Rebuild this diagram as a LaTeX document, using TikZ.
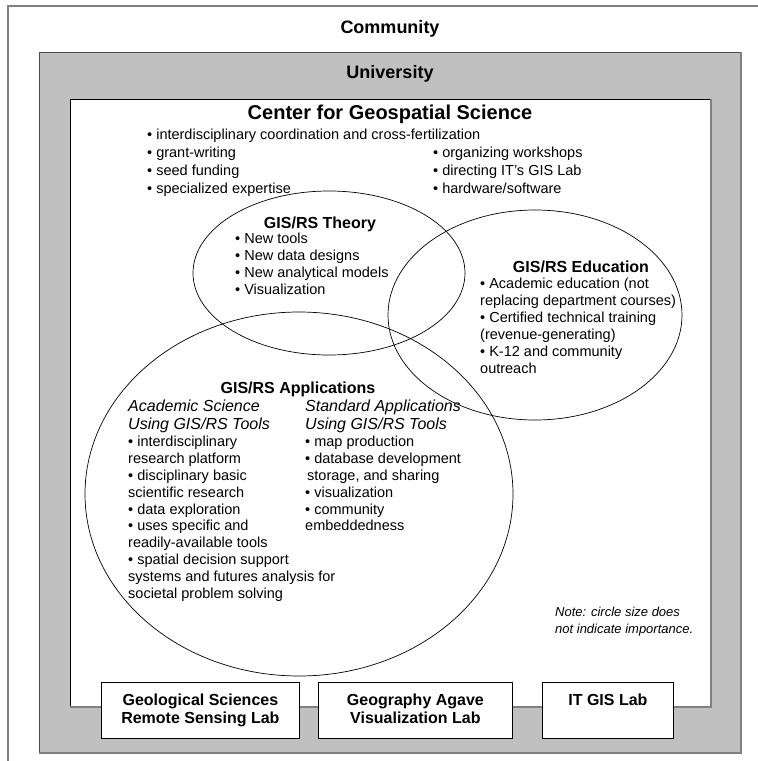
\documentclass[tikz,border=0pt]{standalone}
\usepackage{fontspec}
\setmainfont{Liberation Sans}
\usetikzlibrary{shapes.geometric, positioning}
\definecolor{univgray}{RGB}{192,192,192}
\definecolor{edgegray}{RGB}{128,128,128}

\begin{document}
\begin{tikzpicture}[x=1pt,y=-1pt,
  level/.style={font=\bfseries\fontsize{18}{20}\selectfont,anchor=base,inner sep=0pt},
  head/.style={font=\bfseries\fontsize{16}{18}\selectfont,anchor=base,inner sep=0pt},
  list/.style={font=\fontsize{14.5}{17}\selectfont,align=left,anchor=north west,inner sep=0pt},
  sublist/.style={font=\fontsize{14.5}{16.8}\selectfont,align=left,anchor=north west,inner sep=0pt},
  colhead/.style={font=\itshape\fontsize{16}{18}\selectfont,align=left,anchor=north west,inner sep=0pt},
  bubble/.style={draw,ellipse,inner sep=0pt,line width=0.7pt},
  labbox/.style={draw,fill=white,line width=0.8pt,minimum height=56pt,anchor=north west,inner sep=0pt},
  labtext/.style={font=\bfseries\fontsize{16}{18}\selectfont,align=center,inner sep=0pt},
]
\useasboundingbox (0,0) rectangle (758,761);

\draw[edgegray,line width=1.5pt] (8,761) |- (758,6);
\node[level] (community) at (390,33.5) {Community};

\fill[univgray] (39,52) rectangle (741,753);
\draw[black!70,line width=1pt] (39,753) |- (741,52);
\draw[edgegray,line width=1.5pt] (39,753) -| (741,52);
\node[level] (university) at (390,78.5) {University};

\fill[white] (70,99) rectangle (711,707);
\draw[black,line width=1pt] (70,707) |- (711,99);
\draw[edgegray,line width=1.5pt] (70,707) -| (711,99);
\node[level,font=\bfseries\fontsize{20}{22}\selectfont] (center) at (390,119) {Center for Geospatial Science};
\node[list,font=\fontsize{14.5}{18}\selectfont] (centerL) at (147,126.4) {\strut\textbullet\ interdisciplinary coordination and cross-fertilization\\
  \textbullet\ grant-writing\\ \textbullet\ seed funding\\ \textbullet\ specialized expertise};
\node[list,font=\fontsize{14.5}{18}\selectfont] (centerR) at (433,144.4) {\strut\textbullet\ organizing workshops\\
  \textbullet\ directing IT's GIS Lab\\ \textbullet\ hardware/software};

\node[bubble,minimum width=272pt,minimum height=164pt] (theory) at (329,273) {};
\node[bubble,minimum width=294pt,minimum height=210pt] (education) at (535,315) {};
\node[bubble,minimum width=428pt,minimum height=364pt] (applications) at (299,494) {};

\node[head] (theoryT) at (320,228) {GIS/RS Theory};
\node[list] (theoryL) at (235,231.1) {\strut\textbullet\ New tools\\ \textbullet\ New data designs\\
  \textbullet\ New analytical models\\ \textbullet\ Visualization};

\node[head] (educationT) at (581,272) {GIS/RS Education};
\node[list] (educationL) at (480,276.1) {\strut\textbullet\ Academic education (not\\
  replacing department courses)\\ \textbullet\ Certified technical training\\
  (revenue-generating)\\ \textbullet\ K-12 and community\\ outreach};

\node[head] (applicationsT) at (298,393) {GIS/RS Applications};
\node[colhead] (academicH) at (128,398.4) {\strut Academic Science\\ Using GIS/RS Tools};
\node[sublist] (academicL) at (128,434.9) {\strut\textbullet\ interdisciplinary\\ research platform\\
  \textbullet\ disciplinary basic\\ scientific research\\ \textbullet\ data exploration\\
  \textbullet\ uses specific and\\ readily-available tools\\ \textbullet\ spatial decision support\\
  systems and futures analysis for\\ societal problem solving};
\node[colhead] (standardH) at (305,398.4) {\strut Standard Applications\\ Using GIS/RS Tools};
\node[sublist] (standardL) at (305,434.9) {\strut\textbullet\ map production\\
  \textbullet\ database development\\ \hspace{2pt}storage, and sharing\\ \textbullet\ visualization\\
  \textbullet\ community\\ embeddedness};

\node[list,font=\itshape\fontsize{13}{17}\selectfont] (note) at (555,604) {\strut Note: circle size does\\ not indicate importance.};

\node[labbox,minimum width=198pt] (geolab) at (101,682) {};
\node[labtext,below=10.4pt of geolab.north] (geolabT) {\strut Geological Sciences\\ Remote Sensing Lab};
\node[labbox,minimum width=194pt] (geoglab) at (318,682) {};
\node[labtext,below=10.4pt of geoglab.north] (geoglabT) {\strut Geography Agave\\ Visualization Lab};
\node[labbox,minimum width=131pt] (itlab) at (542,682) {};
\node[labtext,below=10.4pt of itlab.north] (itlabT) {\strut IT GIS Lab};
\end{tikzpicture}
\end{document}
